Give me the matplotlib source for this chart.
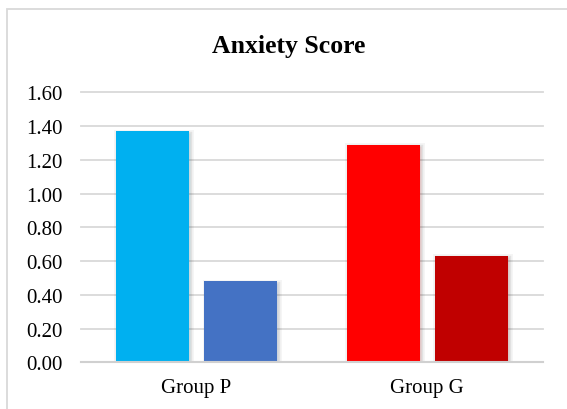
import matplotlib
matplotlib.use("Agg")
import matplotlib.pyplot as plt
import matplotlib.patheffects as pe
from matplotlib.patches import Rectangle
import numpy as np

# Chart data
categories = ["Group P", "Group G"]
first_values = [1.37, 1.29]    # left bar in each group
second_values = [0.48, 0.63]   # right bar in each group
first_colors = ["#00B0F0", "#FF0000"]
second_colors = ["#4472C4", "#C00000"]
y_ticks = [0.0, 0.2, 0.4, 0.6, 0.8, 1.0, 1.2, 1.4, 1.6]
title = "Anxiety Score"

W, H = 567, 410
fig = plt.figure(figsize=(W / 100, H / 100), dpi=100)
fig.patch.set_facecolor("white")

serif = ["Liberation Serif", "DejaVu Serif"]

# Chart-area frame (top and left edges visible)
fig.patches.append(Rectangle((7 / W, -0.1), 1.2, 1 - 10 / H + 0.1,
                             transform=fig.transFigure, fill=False,
                             edgecolor="#D9D9D9", linewidth=1.3))

ax = fig.add_axes([81 / W, 1 - 363.3 / H, (542.7 - 81) / W, (363.3 - 93.3) / H])
ax.set_facecolor("none")

x = np.arange(len(categories))
width = 0.316
offset = 0.1915

shadow = [pe.Stroke(linewidth=5, foreground="black", alpha=0.04, offset=(1, -1)),
          pe.Stroke(linewidth=2.5, foreground="black", alpha=0.08, offset=(1, -1)),
          pe.Normal()]

b1 = ax.bar(x - offset, first_values, width, color=first_colors, zorder=3)
b2 = ax.bar(x + offset, second_values, width, color=second_colors, zorder=3)
for bar in list(b1) + list(b2):
    bar.set_path_effects(shadow)

ax.set_xlim(-0.5, 1.5)
ax.set_ylim(0, 1.6)
ax.set_yticks(y_ticks)
ax.set_yticklabels([f"{v:.2f}" for v in y_ticks], family=serif, fontsize=15)
ax.set_xticks(x)
ax.set_xticklabels(categories, family=serif, fontsize=15)

for s in ["top", "right", "left"]:
    ax.spines[s].set_visible(False)
ax.spines["bottom"].set_color("#D0D0D0")
ax.spines["bottom"].set_linewidth(1.5)
ax.spines["bottom"].set_zorder(4)

ax.tick_params(axis="y", length=0, pad=13, colors="black")
ax.tick_params(axis="x", length=0, pad=11.5, colors="black")

for v in y_ticks[1:]:
    ax.axhline(v, color="#D9D9D9", linewidth=1.3, zorder=1, clip_on=False)

fig.text(289 / W, 1 - 47 / H, title, ha="center", va="center",
         family=serif, fontsize=18.5, fontweight="bold")

fig.savefig("out.png", dpi=100, facecolor="white")
